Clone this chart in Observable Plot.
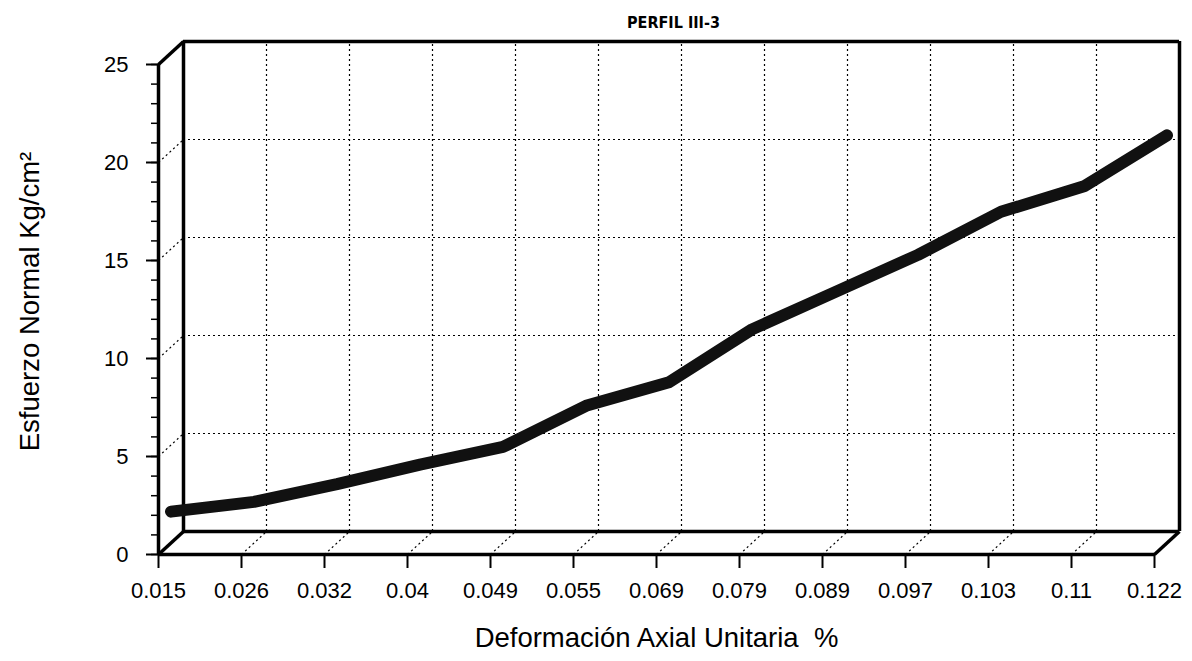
<!DOCTYPE html>
<html>
<head>
<meta charset="utf-8">
<script src="https://cdn.jsdelivr.net/npm/d3@7"></script>
<script src="https://cdn.jsdelivr.net/npm/@observablehq/plot@0.6"></script>
<style>
  html, body { margin: 0; padding: 0; background: #fff; }
  #chart svg { display: block; }
</style>
</head>
<body>
<div id="chart"></div>
<script>
// ---- data ----
const categories = ["0.015", "0.026", "0.032", "0.04", "0.049", "0.055", "0.069", "0.079", "0.089", "0.097", "0.103", "0.11", "0.122"];
const stress = [1.6, 2.1, 3.0, 4.0, 4.9, 7.0, 8.2, 10.9, 12.8, 14.7, 16.9, 18.2, 20.8];
const yMajorTicks = [0, 5, 10, 15, 20, 25];
const yGridValues = [5, 10, 15, 20];
const yMinorTicks = d3.range(0, 26);
const title = "PERFIL III-3";
const xLabel = "Deformación Axial Unitaria  %";
const yLabel = "Esfuerzo Normal Kg/cm²";

// ---- derived ----
const idx = categories.map((_, i) => i);
const rows = categories.map((c, i) => ({i, c, v: stress[i]}));
const inner = idx.slice(1, -1);

// 3-D depth offset (pixels) and its equivalent in data units
const W = 1192, H = 661;
const mL = 158, mR = 38, mT = 64, mB = 107;
const depthPx = {x: 25, y: -23};
const stepX = (W - mL - mR) / (categories.length - 1);
const stepY = (H - mT - mB) / 25;
const DX = depthPx.x / stepX;
const DY = -depthPx.y / stepY;

const dotted = {stroke: "#000", strokeWidth: 1.2, strokeDasharray: "2,3"};
const heavy = {stroke: "#000", strokeWidth: 3.5};

const chart = Plot.plot({
  width: W,
  height: H,
  marginLeft: mL,
  marginRight: mR,
  marginTop: mT,
  marginBottom: mB,
  x: {domain: [0, categories.length - 1]},
  y: {domain: [0, 25]},
  style: {fontFamily: "'Liberation Sans', Arial, sans-serif", fontSize: "22px", color: "#000", background: "#fff"},
  marks: [
    // back wall gridlines
    Plot.ruleY(yGridValues, {dx: depthPx.x, dy: depthPx.y, ...dotted}),
    Plot.ruleX(inner, {y1: 0, y2: 25, dx: depthPx.x, dy: depthPx.y, ...dotted}),
    // floor gridlines (diagonals)
    Plot.link(inner, {x1: d => d, y1: 0, x2: d => d + DX, y2: DY, ...dotted}),
    // side wall gridlines (diagonals)
    Plot.link(yGridValues, {x1: 0, y1: d => d, x2: DX, y2: d => d + DY, ...dotted}),
    // back frame
    Plot.ruleY([0, 25], {dx: depthPx.x, dy: depthPx.y, ...heavy}),
    Plot.ruleX([0, categories.length - 1], {y1: 0, y2: 25, dx: depthPx.x, dy: depthPx.y, ...heavy}),
    // front frame
    Plot.ruleY([0], heavy),
    Plot.ruleX([0], {y1: 0, y2: 25, ...heavy}),
    Plot.link([0, categories.length - 1], {x1: d => d, y1: 0, x2: d => d + DX, y2: DY, ...heavy}),
    Plot.link([25], {x1: 0, y1: d => d, x2: DX, y2: d => d + DY, ...heavy}),
    // data ribbon (mid depth)
    Plot.line(rows, {x: "i", y: "v", dx: depthPx.x / 2, dy: depthPx.y / 2, stroke: "#111", strokeWidth: 12, strokeLinecap: "round", strokeLinejoin: "round"}),
    // axes
    Plot.axisY(yMinorTicks, {tickSize: 7, tickFormat: () => "", label: null, strokeWidth: 1.5}),
    Plot.axisY(yMajorTicks, {tickSize: 12, tickPadding: 18, fontSize: 22, label: null, strokeWidth: 2}),
    Plot.axisX(idx, {tickSize: 14, tickPadding: 14, tickFormat: i => categories[i], fontSize: 22, label: null, strokeWidth: 2}),
    // titles
    Plot.text([title], {frameAnchor: "top", dx: 17, dy: -48, fontSize: 16, fontWeight: "bold", fontFamily: "'Liberation Sans Narrow', 'DejaVu Sans Condensed', sans-serif"}),
    Plot.text([xLabel], {frameAnchor: "bottom", dy: 92, fontSize: 27.5}),
    Plot.text([yLabel], {frameAnchor: "left", dx: -128, dy: -8, rotate: -90, textAnchor: "middle", fontSize: 27.5})
  ]
});
document.getElementById("chart").append(chart);
</script>
</body>
</html>
